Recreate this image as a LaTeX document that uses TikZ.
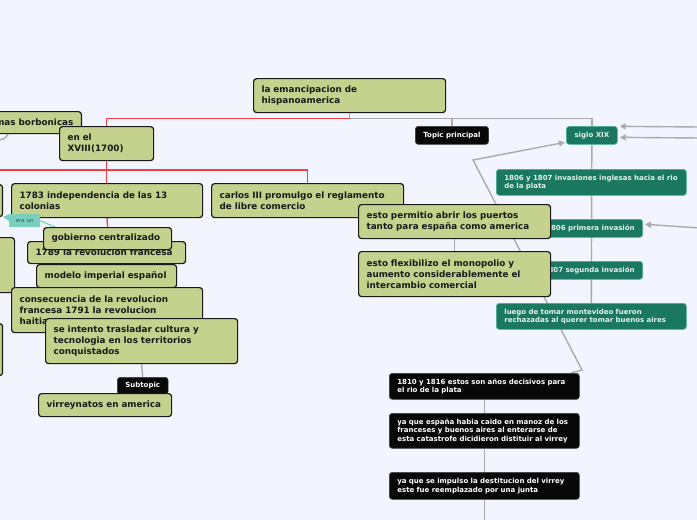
\documentclass[tikz,border=0pt]{standalone}
\usepackage{fontspec}
\setmainfont{DejaVu Sans}
\usetikzlibrary{arrows.meta,calc}
\definecolor{bgc}{RGB}{243,245,254}
\definecolor{gfill}{RGB}{196,210,142}
\definecolor{gdraw}{RGB}{25,25,25}
\definecolor{tfill}{RGB}{27,120,96}
\definecolor{tdraw}{RGB}{80,175,145}
\definecolor{ttext}{RGB}{228,242,235}
\definecolor{rlinec}{RGB}{238,62,72}
\definecolor{glinec}{RGB}{170,170,174}
\definecolor{callc}{RGB}{122,206,190}
\definecolor{calltext}{RGB}{40,95,85}
\pgfdeclarelayer{bglayer}
\pgfsetlayers{bglayer,main}
\tikzset{
  gbox/.style={draw=gdraw, fill=gfill, line width=1.2pt, rounded corners=3pt, anchor=north west, align=left, inner xsep=8pt, inner ysep=0pt, font=\fontsize{8.8}{11}\selectfont\bfseries, text=black!90},
  tbox/.style={draw=tdraw, fill=tfill, line width=0.7pt, rounded corners=3pt, anchor=north west, align=left, inner xsep=8pt, inner ysep=0pt, font=\fontsize{7}{8.5}\selectfont\bfseries, text=ttext},
  kbox/.style={draw=black!75, fill=black!97, line width=0.7pt, rounded corners=3pt, anchor=north west, align=left, inner xsep=8pt, inner ysep=0pt, font=\fontsize{7}{8.5}\selectfont\bfseries, text=white},
  redl/.style={draw=rlinec, line width=1.3pt},
  grayl/.style={draw=glinec, line width=1.4pt},
  grayarr/.style={grayl, -{Triangle[length=6pt,width=6pt]}},
}
\begin{document}
\begin{tikzpicture}[x=1pt,y=-1pt]
\useasboundingbox (0,0) rectangle (697,520);
\clip (0,0) rectangle (697,520);

% left partial boxes
\node[gbox, minimum width=32pt, minimum height=32pt] (lb1) at (-30,184) {};
\node[gbox, minimum width=44pt, minimum height=55pt] (lb2) at (-30,237) {};
\node[gbox, minimum width=32pt, minimum height=52pt] (lb3) at (-30,323) {};

% green nodes
\node[gbox, minimum height=34pt, text width=176pt] (main) at (253,78) {la emancipacion de\\hispanoamerica};
\node[gbox, minimum height=22pt, anchor=north east] (borb) at (82,111) {reformas borbonicas};
\node[gbox, minimum height=34pt, text width=78pt] (enel) at (59,126) {en el\\XVIII(1700)};
\node[gbox, minimum height=34pt, text width=175pt] (c1783) at (11,183) {1783 independencia de las 13\\colonias};
\node[gbox, minimum height=34pt, text width=176pt] (carlos) at (211,183) {carlos III promulgo el reglamento\\de libre comercio};
\node[gbox, minimum height=22pt, text width=142pt] (b1789) at (27,241) {1789 la revolucion francesa};
\node[gbox, minimum height=22pt, text width=112pt] (gob) at (43,227) {gobierno centralizado};
\node[gbox, minimum height=23pt, text width=124pt] (modelo) at (36,264) {modelo imperial español};
\node[gbox, minimum height=45pt, text width=175pt] (consec) at (11,287) {consecuencia de la revolucion\\francesa 1791 la revolucion\\haitiana};
\node[gbox, minimum height=45pt, text width=176pt] (sei) at (45,318) {se intento trasladar cultura y\\tecnologia en los territorios\\conquistados};
\node[kbox, minimum height=17pt, minimum width=48pt, align=center] (sub) at (117,377) {Subtopic};
\node[gbox, minimum height=23pt, text width=117pt] (virr) at (38,393) {virreynatos en america};

% callout
\fill[callc] (9,214) -- (3,217) -- (9,221) -- cycle;
\node[fill=callc, rounded corners=1pt, anchor=north west, minimum width=31pt, minimum height=13pt, inner sep=0pt, font=\fontsize{5.5}{6}\selectfont, text=calltext] (eraun) at (9,214) {era un};

% teal nodes
\node[tbox, minimum height=18pt, minimum width=51pt, align=center] (siglo) at (566,126) {siglo XIX};
\node[tbox, minimum height=26pt, text width=174pt] (inv) at (496,169) {1806 y 1807 invasiones inglesas hacia el rio\\de la plata};
\node[tbox, minimum height=18pt, anchor=north east] (prim) at (643,219) {1806 primera invasión};
\node[tbox, minimum height=18pt, anchor=north east] (seg) at (643,261) {1807 segunda invasión};
\node[tbox, minimum height=26pt, text width=174pt] (luego) at (496,303) {luego de tomar montevideo fueron\\rechazadas al querer tomar buenos aires};

% green nodes on top of teal
\node[gbox, minimum height=34pt, text width=176pt] (permitio) at (358,204) {esto permitio abrir los puertos\\tanto para españa como america};
\node[gbox, minimum height=45pt, text width=176pt] (flex) at (358,251) {esto flexibilizo el monopolio y\\aumento considerablemente el\\intercambio comercial};

% black nodes
\node[kbox, minimum height=18pt, minimum width=72pt, align=center] (topic) at (415,126) {Topic principal};
\node[kbox, minimum height=26pt, text width=174pt] (b1810) at (389,373) {1810 y 1816 estos son años decisivos para\\el rio de la plata};
\node[kbox, minimum height=35pt, text width=174pt] (bespana) at (389,413) {ya que españa habia caido en manoz de los\\franceses y buenos aires al enterarse de\\esta catastrofe dicidieron distituir al virrey};
\node[kbox, minimum height=27pt, text width=174pt] (bjunta) at (389,472) {ya que se impulso la destitucion del virrey\\este fue reemplazado por una junta};

% free ends
\coordinate (redleft) at (-5,170);
\coordinate (ra) at (700,127);
\coordinate (rb) at (700,138);
\coordinate (rc) at (700,228);
\coordinate (bend1) at (582,370);
\coordinate (bend2) at (473,160);
\coordinate (bl) at (-3,140);
\coordinate (bend) at (484,530);

\begin{pgfonlayer}{bglayer}
\fill[bgc] (0,0) rectangle (697,520);
% gray from main
\draw[grayl] (main.south) -- ++(0,5) -| (siglo.north);
\draw[grayl] (main.south) ++(0,5) -| (topic.north);
% red tree
\draw[redl] (main.south) ++(0,5) -| (enel.north);
\draw[redl] (enel.south) -- (enel.south |- c1783.north);
\draw[redl] (redleft) -- (carlos.north |- redleft) -- (carlos.north);
\draw[redl] (c1783.south) -- (gob.north);
% others
\draw[grayl] ([xshift=-74pt]borb.south east) .. controls +(-2,5) and +(4,0) .. (bl);
\draw[callc, line width=1.2pt] (eraun.east) -- ([xshift=14pt,yshift=-1pt]gob.north west);
\draw[grayl] (sei.south) -- (sub.north);
\draw[grayl] (permitio.south) -- (flex.north);
\draw[grayl] (siglo.south) -- (luego.north);
\draw[grayarr] ([xshift=-9pt]b1810.north east) -- (bend1) -- (bend2) -- ([yshift=-7pt,xshift=-1pt]siglo.west);
\draw[grayarr] (ra) -- ([xshift=2pt,yshift=9pt]siglo.east);
\draw[grayarr] (rb) -- ([xshift=2pt,yshift=-2pt]siglo.east);
\draw[grayarr] (rc) -- ([xshift=2pt,yshift=4pt]prim.east);
\draw[grayl] (b1810.south) -- (bespana.north);
\draw[grayl] (bespana.south) -- (bjunta.north);
\draw[grayl] (bjunta.south) -- (bjunta.south |- bend);
\end{pgfonlayer}
\end{tikzpicture}
\end{document}
